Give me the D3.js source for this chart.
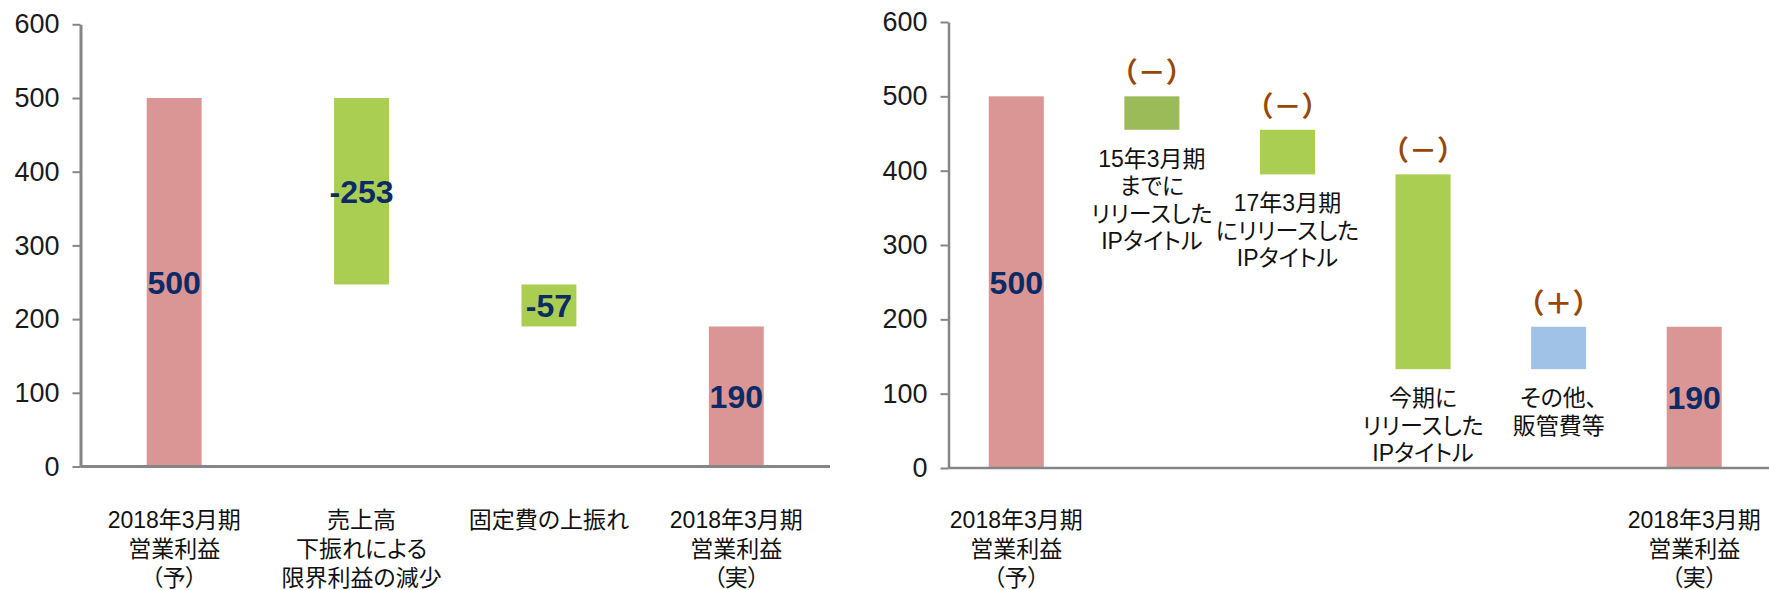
<!DOCTYPE html>
<html>
<head>
<meta charset="utf-8">
<script src="https://cdn.jsdelivr.net/npm/d3@7"></script>
<style>
  body { margin: 0; background: #fff; }
  svg { display: block; }
  text { font-family: "Liberation Sans", "Noto Sans CJK JP", sans-serif; }
  .cat { font-feature-settings: "palt"; }
</style>
</head>
<body>
<script>
// data for left chart
var leftCategories = [
  ["2018年3月期", "営業利益", "（予）"],
  ["売上高", "下振れによる", "限界利益の減少"],
  ["固定費の上振れ"],
  ["2018年3月期", "営業利益", "（実）"]
];
var leftValues = [500, -253, -57, 190];
var leftKinds = ["total", "delta", "delta", "total"];

// data for right chart
var rightCategories = [
  ["2018年3月期", "営業利益", "（予）"],
  ["15年3月期", "までに", "リリースした", "IPタイトル"],
  ["17年3月期", "にリリースした", "IPタイトル"],
  ["今期に", "リリースした", "IPタイトル"],
  ["その他、", "販管費等"],
  ["2018年3月期", "営業利益", "（実）"]
];
var rightValues = [500, -45, -60, -262, 57, 190];
var rightKinds = ["total", "delta", "delta", "delta", "delta", "total"];
var rightSigns = ["", "（－）", "（－）", "（－）", "（＋）", ""];

var yTicks = [0, 100, 200, 300, 400, 500, 600];

// colours
var pink = "#D99694";
var green = "#A9CE51";
var leftColors = [pink, green, green, pink];
var rightColors = [pink, "#9BBB59", green, green, "#A0C2E7", pink];

var svg = d3.select("body")
  .append("svg")
  .attr("width", 1769)
  .attr("height", 590);

// build waterfall segments
function segments(values, kinds) {
  var running = 0;
  return values.map(function(v, i) {
    var s;
    if (kinds[i] == "total") {
      s = {y0: 0, y1: v};
      running = v;
    } else {
      s = {y0: running, y1: running + v};
      running = running + v;
    }
    s.value = v;
    s.kind = kinds[i];
    s.i = i;
    return s;
  });
}

function drawChart(opt) {
  var g = svg.append("g");
  var keys = opt.categories.map(function(d, i) { return "c" + i; });

  var x = d3.scaleBand()
    .domain(keys)
    .range([opt.x0, opt.x1])
    .paddingInner(opt.pad)
    .paddingOuter(opt.pad / 2);

  var y = d3.scaleLinear()
    .domain([0, 600])
    .range([opt.yBottom, opt.yTop]);

  var data = segments(opt.values, opt.kinds);

  // bars
  g.selectAll("rect.bar")
    .data(data)
    .enter()
    .append("rect")
    .attr("class", "bar")
    .attr("x", function(d) { return x(keys[d.i]); })
    .attr("width", x.bandwidth())
    .attr("y", function(d) { return y(Math.max(d.y0, d.y1)); })
    .attr("height", function(d) { return Math.abs(y(d.y0) - y(d.y1)); })
    .attr("fill", function(d) { return opt.colors[d.i]; });

  // y axis
  var axis = g.append("g")
    .attr("transform", "translate(" + opt.x0 + ",0)")
    .call(d3.axisLeft(y).tickValues(yTicks).tickSize(8).tickSizeOuter(0).tickPadding(13));
  axis.select(".domain").attr("stroke", "#868686").attr("stroke-width", opt.axisWidth);
  axis.selectAll(".tick line").attr("stroke", "#868686").attr("stroke-width", 2);
  axis.selectAll(".tick text")
    .attr("font-size", 27)
    .attr("fill", "#1a1a1a")
    .style("font-family", "'Liberation Sans', Arial, sans-serif");

  // baseline
  g.append("line")
    .attr("x1", opt.x0)
    .attr("x2", opt.baseEnd)
    .attr("y1", y(0))
    .attr("y2", y(0))
    .attr("stroke", "#868686")
    .attr("stroke-width", opt.axisWidth);

  // value labels
  g.selectAll("text.val")
    .data(data.filter(function(d) { return opt.showValue(d); }))
    .enter()
    .append("text")
    .attr("class", "val")
    .attr("x", function(d) { return x(keys[d.i]) + x.bandwidth() / 2; })
    .attr("y", function(d) { return y((d.y0 + d.y1) / 2) + 1; })
    .attr("text-anchor", "middle")
    .attr("dominant-baseline", "central")
    .attr("font-size", 32)
    .attr("font-weight", "bold")
    .attr("fill", "#0B2A66")
    .text(function(d) { return d.value; });

  // category labels
  data.forEach(function(d) {
    var cx = x(keys[d.i]) + x.bandwidth() / 2;
    var lines = opt.categories[d.i];
    var startY, step;
    if (opt.labelBelowBar && d.kind == "delta") {
      startY = y(Math.min(d.y0, d.y1)) + 29;
      step = 27.5;
    } else {
      startY = 520;
      step = 29;
    }
    var t = g.append("text")
      .attr("class", "cat")
      .attr("text-anchor", "middle")
      .attr("font-size", 23)
      .attr("fill", "#111");
    lines.forEach(function(line, k) {
      t.append("tspan")
        .attr("x", cx)
        .attr("y", startY + k * step)
        .attr("dominant-baseline", "central")
        .text(line);
    });
  });

  // +/- signs above delta bars
  if (opt.signs) {
    g.selectAll("text.sign")
      .data(data.filter(function(d) { return opt.signs[d.i] != ""; }))
      .enter()
      .append("text")
      .attr("class", "sign")
      .attr("x", function(d) { return x(keys[d.i]) + x.bandwidth() / 2; })
      .attr("y", function(d) { return y(Math.max(d.y0, d.y1)) - 25; })
      .attr("text-anchor", "middle")
      .attr("dominant-baseline", "central")
      .attr("font-size", 28)
      .attr("font-weight", "bold")
      .attr("fill", "#974806")
      .style("font-family", "'Noto Sans CJK JP', sans-serif")
      .text(function(d) { return opt.signs[d.i]; });
  }
}

drawChart({
  categories: leftCategories,
  values: leftValues,
  kinds: leftKinds,
  colors: leftColors,
  x0: 80.5, x1: 830, baseEnd: 830,
  yTop: 24.3, yBottom: 466.5,
  pad: 0.707,
  axisWidth: 3,
  labelBelowBar: false,
  showValue: function(d) { return true; }
});

drawChart({
  categories: rightCategories,
  values: rightValues,
  kinds: rightKinds,
  colors: rightColors,
  signs: rightSigns,
  x0: 948.5, x1: 1762, baseEnd: 1769,
  yTop: 22, yBottom: 468,
  pad: 0.594,
  axisWidth: 2.5,
  labelBelowBar: true,
  showValue: function(d) { return d.kind == "total"; }
});
</script>
</body>
</html>
